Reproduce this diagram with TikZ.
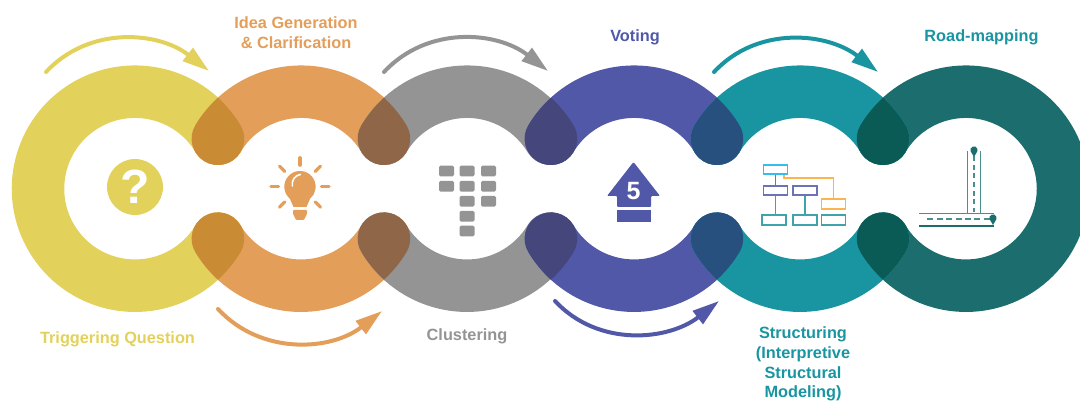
\documentclass[tikz,border=0pt]{standalone}
\usepackage{fontspec}
\setmainfont{Liberation Sans}
\usetikzlibrary{arrows.meta}
\definecolor{trigcol}{HTML}{E2D15A}
\definecolor{ideacol}{HTML}{E39E5A}
\definecolor{clustcol}{HTML}{949494}
\definecolor{votecol}{HTML}{5158A8}
\definecolor{structcol}{HTML}{1995A1}
\definecolor{roadcol}{HTML}{1C6E6E}
\definecolor{roadthin}{HTML}{4A8E8E}
\definecolor{chartblue}{HTML}{35BDF0}
\definecolor{chartpurple}{HTML}{6D71B5}
\definecolor{chartorange}{HTML}{FDB44E}
\definecolor{chartteal}{HTML}{3FA3AC}
\tikzset{
  bandline/.style={line width=52.5pt, line cap=round},
  flowarrow/.style={draw=#1, line width=4pt, line cap=round,
    -{Triangle[length=27pt,width=16pt,fill=#1]}},
  steplabel/.style={font=\bfseries\fontsize{16.3}{19.7}\selectfont, align=center, text=#1, inner sep=0pt},
  chartbox/.style={draw=#1, line width=1.6pt, minimum width=24pt, minimum height=9.5pt, inner sep=0pt},
  chartlink/.style={draw=#1, line width=1.4pt},
}
\begin{document}
\begin{tikzpicture}[x=1pt,y=1pt]
    \useasboundingbox (0,0) rectangle (1080,401);
    % ------ the chain of bands -----------------
    \draw [bandline, draw=trigcol] ([shift={(31:97)}]135,212.3) arc [start angle=31, end angle=329, radius=97];
    \draw [bandline, draw=roadcol] ([shift={(149:97)}]966,212.3) arc [start angle=149, end angle=-149, radius=97];
    \foreach \cx/\col in {301/ideacol,467/clustcol,634/votecol,800/structcol} {
      \draw [bandline, draw=\col] ([shift={(149:97)}]\cx,212.3) arc [start angle=149, end angle=31, radius=97];
      \draw [bandline, draw=\col] ([shift={(211:97)}]\cx,212.3) arc [start angle=211, end angle=329, radius=97];
    }
    % ------ the overlaps -----------------
    \foreach \lx/\col in {218/C98B33,384/8F6748,551/45467C,717/27507F,883/0A5A55} {
      \definecolor{lenscol}{HTML}{\col}
      \foreach \s in {1,-1} {
        \fill [lenscol, shift={(\lx,212.3)}, yscale=\s] (0,91)
          arc [start angle=132.4, end angle=149, radius=123.25]
          arc [start angle=149, end angle=391, radius=26.25]
          arc [start angle=31, end angle=47.6, radius=123.25] -- cycle;
      }
    }
    % ------ the arrows -----------------
    \coordinate (trigfrom) at (46,329);
    \coordinate (trigto) at (209,330);
    \coordinate (ideafrom) at (218,92);
    \coordinate (ideato) at (382,90);
    \coordinate (clustfrom) at (384,329);
    \coordinate (clustto) at (548,330);
    \coordinate (votefrom) at (555,100);
    \coordinate (voteto) at (719,100);
    \coordinate (structfrom) at (714,329);
    \coordinate (structto) at (878,329);
    \draw [flowarrow=trigcol] (trigfrom) to [out=47, in=142] (trigto);
    \draw [flowarrow=ideacol] (ideafrom) to [out=-47, in=-142] (ideato);
    \draw [flowarrow=clustcol] (clustfrom) to [out=47, in=142] (clustto);
    \draw [flowarrow=votecol] (votefrom) to [out=-47, in=-142] (voteto);
    \draw [flowarrow=structcol] (structfrom) to [out=47, in=142] (structto);
    % ------ the labels -----------------
    \node [steplabel=trigcol] (trigger) at (117.5,61.5) {Triggering Question};
    \node [steplabel=ideacol] (idea) at (296,368.5) {Idea Generation\\\& Clarification};
    \node [steplabel=clustcol] (cluster) at (467,64.5) {Clustering};
    \node [steplabel=votecol] (voting) at (635,363.5) {Voting};
    \node [steplabel=structcol] (structuring) at (803,37) {Structuring\\(Interpretive\\Structural\\Modeling)};
    \node [steplabel=structcol] (roadmap) at (981.5,363.5) {Road-mapping};
    % ------ question mark -----------------
    \node [circle, fill=trigcol, text=white, minimum size=56pt, inner sep=0pt,
           font=\bfseries\fontsize{48}{48}\selectfont] (question) at (135,214) {?};
    % ------ bulb -----------------
    \foreach \a in {0,45,90,135,180,-45,-135} {
      \draw [ideacol, line width=3.2pt, line cap=round] ([shift={(\a:21.5)}]300,214.3) -- ([shift={(\a:29)}]300,214.3);
    }
    \fill [ideacol] (293.5,194) -- (289.9,202.3) arc [start angle=230, end angle=-50, radius=15.7] -- (306.5,194) -- cycle;
    \fill [ideacol, rounded corners=1pt] (293,191) -- (307,191) -- (307,187) -- (304,181) -- (296,181) -- (293,187) -- cycle;
    \draw [white, line width=1.6pt, line cap=round] (292.3,215) arc [start angle=190, end angle=100, radius=10];
    % ------ keypad -----------------
    \foreach \kx/\ky in {439/235.3,459.5/235.3,481/235.3,439/220,459.5/220,481/220,459.5/205,481/205,459.5/190,459.5/175.3} {
      \fill [clustcol, rounded corners=1.5pt] (\kx,\ky) rectangle +(15,-10.7);
    }
    % ------ arrow with the vote -----------------
    \fill [votecol, rounded corners=1pt] (633.5,239) -- (660,205) -- (651,205) -- (651,194) -- (617,194) -- (617,205) -- (607,205) -- cycle;
    \fill [votecol] (617,191) rectangle (651,179);
    \node [text=white, inner sep=0pt, font=\bfseries\fontsize{25}{25}\selectfont] (votenum) at (633.5,210) {5};
    % ------ hierarchy -----------------
    \node [chartbox=chartblue] (chtop) at (775.5,231.5) {};
    \node [chartbox=chartpurple] (chleft) at (775.5,210.5) {};
    \node [chartbox=chartpurple] (chmid) at (805,210.5) {};
    \node [chartbox=chartorange] (chorange) at (833.5,197) {};
    \node [chartbox=chartteal] (chbotl) at (774,181) {};
    \node [chartbox=chartteal] (chbotm) at (805,181) {};
    \node [chartbox=chartteal] (chbotr) at (833.5,181) {};
    \draw [chartlink=chartpurple] (chleft.north |- chtop.south) -- (chleft.north);
    \draw [chartlink=chartorange] ([xshift=8.5pt]chtop.south) -- ++(0,-3) -| (chorange.north);
    \draw [chartlink=chartteal] (chleft.south) -- (chleft.south |- chbotl.north);
    \draw [chartlink=chartteal] (chmid.south) -- (chbotm.north);
    % ------ roads -----------------
    \draw [roadthin, line width=1.4pt] (967.3,250) -- (967.3,188) (980.3,250) -- (980.3,188);
    \draw [roadthin, line width=1.4pt] (919.3,187.7) -- (994,187.7);
    \draw [roadcol, line width=1.6pt] (919.3,175) -- (994,175);
    \draw [roadthin, line width=1.5pt, dash pattern=on 5pt off 3.7pt] (974,245) -- (974,189);
    \draw [roadthin, line width=1.5pt, dash pattern=on 6pt off 3.4pt] (927.3,182) -- (990,182);
    \foreach \px/\py in {974/251,993/183} {
      \fill [roadcol] (\px,\py-7) -- ([shift={(200:3.6)}]\px,\py) arc [start angle=200, end angle=-20, radius=3.6] -- cycle;
    }
\end{tikzpicture}
\end{document}
